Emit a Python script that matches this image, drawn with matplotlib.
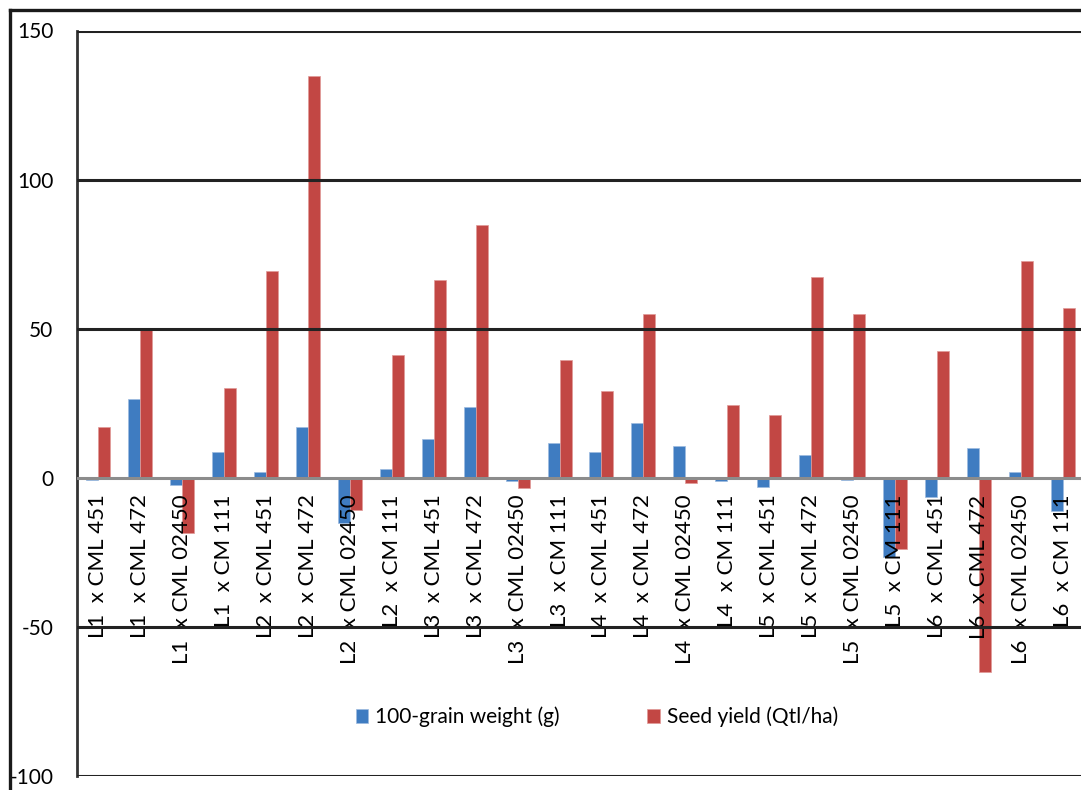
import matplotlib
matplotlib.use("Agg")
import matplotlib.pyplot as plt
from matplotlib.lines import Line2D
import numpy as np

plt.rcParams['font.family'] = ['Lato', 'DejaVu Sans']
plt.rcParams['axes.unicode_minus'] = False

crosses = ["L1  x CML 451", "L1  x CML 472", "L1  x CML 02450", "L1  x CM 111",
           "L2  x CML 451", "L2  x CML 472", "L2  x CML 02450", "L2  x CM 111",
           "L3  x CML 451", "L3  x CML 472", "L3  x CML 02450", "L3  x CM 111",
           "L4  x CML 451", "L4  x CML 472", "L4  x CML 02450", "L4  x CM 111",
           "L5  x CML 451", "L5  x CML 472", "L5  x CML 02450", "L5  x CM 111",
           "L6  x CML 451", "L6  x CML 472", "L6  x CML 02450", "L6  x CM 111"]
grain_weight = [-0.9, 26.3, -2.5, 8.7, 1.8, 17.1, -15.0, 3.1,
                13.1, 23.6, -1.0, 11.8, 8.8, 18.5, 10.5, -1.2,
                -3.2, 7.6, -0.8, -26.4, -6.6, 9.9, 1.8, -11.1]
seed_yield = [17.1, 49.5, -18.4, 30.0, 69.3, 134.7, -10.7, 41.3,
              66.3, 84.8, -3.5, 39.5, 29.0, 55.0, -1.9, 24.3,
              21.0, 67.4, 55.0, -23.9, 42.4, -65.0, 72.7, 56.8]
series_names = ["100-grain weight (g)", "Seed yield (Qtl/ha)"]
colors = ["#3F7CC1", "#C24744"]

fig = plt.figure(figsize=(10.81, 7.90), dpi=100)
ax = fig.add_axes([77 / 1081, 14 / 790, 1007 / 1081, 745.5 / 790])

x = np.arange(len(crosses))
w = 0.286
ax.bar(x - w / 2, grain_weight, w, color=colors[0], label=series_names[0],
       edgecolor='#9DBBE0', linewidth=0.5, zorder=2)
ax.bar(x + w / 2, seed_yield, w, color=colors[1], label=series_names[1],
       edgecolor='#E09A98', linewidth=0.5, zorder=2)

ax.set_xlim(-0.5, len(crosses) - 0.5)
ax.set_ylim(-100, 150)
ax.set_yticks([-100, -50, 0, 50, 100, 150])
ax.tick_params(axis='y', length=0, pad=17, labelsize=15)
ax.set_xticks([])

for v in [-100, -50, 50, 100, 150]:
    ax.axhline(v, color='#222222', lw=2.2, zorder=4)
ax.axhline(0, color='#8C8C8C', lw=2.2, zorder=4)

for s in ['top', 'bottom', 'right']:
    ax.spines[s].set_visible(False)
ax.spines['left'].set_color('#333333')
ax.spines['left'].set_linewidth(2)

for i, lbl in enumerate(crosses):
    ax.annotate(lbl, (i, 0), xytext=(0, -12), textcoords='offset points',
                rotation=90, ha='center', va='top', fontsize=16, zorder=3)

ax.legend(loc='center', bbox_to_anchor=(597 / 1081, 1 - 717 / 790),
          bbox_transform=fig.transFigure, ncol=2, frameon=False,
          fontsize=15, handlelength=0.6, handleheight=0.6,
          handletextpad=0.35, columnspacing=4.2)

# outer chart frame
fig.add_artist(Line2D([9.5 / 1081, 9.5 / 1081], [0, 1 - 9.5 / 790],
                      transform=fig.transFigure, color='#1a1a1a', lw=2.4))
fig.add_artist(Line2D([9.5 / 1081, 1], [1 - 9.5 / 790, 1 - 9.5 / 790],
                      transform=fig.transFigure, color='#1a1a1a', lw=2.4))

fig.savefig("out.png", dpi=100)
